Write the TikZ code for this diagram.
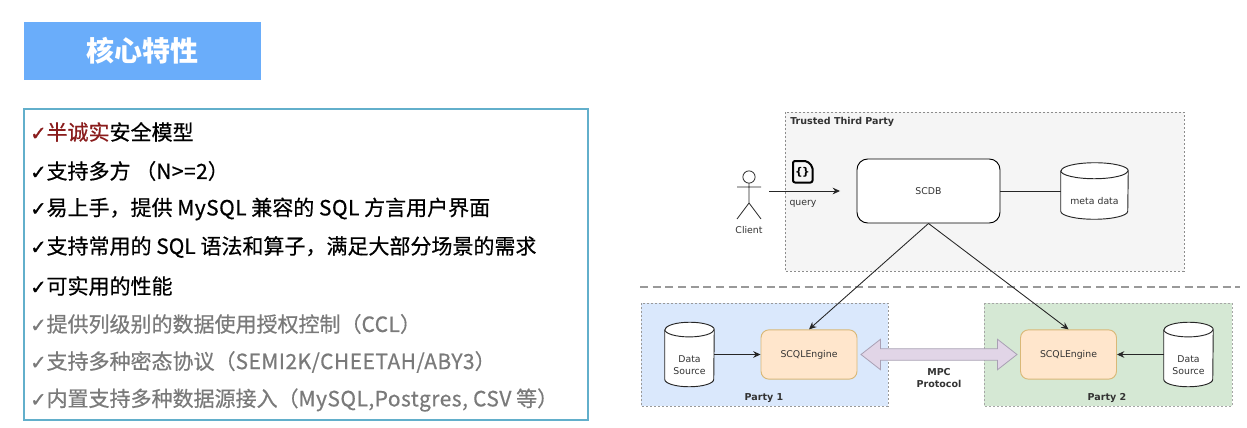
\documentclass[tikz,border=0pt]{standalone}
\usepackage{fontspec}
\setmainfont{Noto Sans CJK SC}
\newfontfamily\dejavu{DejaVu Sans}
\newfontfamily\tickfont[RawFeature={embolden=1.2}]{DejaVu Sans}
\newfontfamily\featfont[RawFeature={embolden=0.5}]{Noto Sans CJK SC}
\usetikzlibrary{arrows.meta,shapes.arrows}
\definecolor{titleblue}{HTML}{6AADFA}
\definecolor{panelline}{HTML}{62AFCB}
\definecolor{accentred}{HTML}{8A1C1C}
\definecolor{mutedtext}{HTML}{7A7A7A}
\definecolor{zonegray}{HTML}{F5F5F5}
\definecolor{zoneblue}{HTML}{DAE8FC}
\definecolor{zonegreen}{HTML}{D5E8D4}
\definecolor{engineorange}{HTML}{FFE6CC}
\definecolor{engineline}{HTML}{D9B877}
\definecolor{mpcfill}{HTML}{E1D5E7}
\definecolor{mpcline}{HTML}{A9A0B4}
\newcommand{\tick}{{\tickfont\fontsize{14.6}{15}\selectfont ✓}}
\newcommand{\lat}[1]{{\addfontfeature{LetterSpace=2.2}#1}}
% database drum around a named box: node name, half width, cap height (both in pt)
\newcommand{\drum}[3]{%
  \filldraw[storeline,fill=white] ([yshift=-#3]#1.north west) -- ([yshift=#3]#1.south west)
    arc[start angle=180,delta angle=180,x radius=#2,y radius=#3]
    -- ([yshift=-#3]#1.north east)
    arc[start angle=0,delta angle=180,x radius=#2,y radius=#3];
  \draw[storeline] ([yshift=-#3]#1.north west)
    arc[start angle=180,delta angle=180,x radius=#2,y radius=#3];}
\tikzset{
  x=0.75pt,y=-0.75pt,
  feature/.style={anchor=west,inner sep=0pt,font=\featfont\fontsize{15.75}{18}\selectfont},
  zone/.style={draw=#1,line width=0.6pt,dash pattern=on 1.6pt off 1.4pt},
  roundbox/.style={draw,rounded corners=8pt,line width=0.7pt,anchor=center},
  storeline/.style={draw=black!85,line width=0.7pt},
  storebox/.style={inner sep=0pt},
  small/.style={font=\dejavu\fontsize{7}{9}\selectfont,align=center,inner sep=0pt,text=black!80},
  smallbold/.style={font=\dejavu\bfseries\fontsize{7.15}{9}\selectfont,align=center,inner sep=0pt,text=black!80},
  link/.style={draw=black!85,line width=0.65pt},
  linkarrow/.style={link,-{Stealth[length=5.5pt,width=5pt]}},
}
\begin{document}
\begin{tikzpicture}
\useasboundingbox (0,0) rectangle (1247,428);
\fill[white] (0,0) rectangle (1247,428);

% heading
\node[fill=titleblue,minimum width=177.75pt,minimum height=43.5pt,inner sep=0pt,text=white,
  font=\bfseries\fontsize{21}{24}\selectfont] (heading) at (142.5,51) {核心特性};

% feature panel
\draw[panelline,line width=1.3pt] (24,109) rectangle (588,420);
\node[feature,text=accentred] (f1) at (30,132) {\tick 半诚实\textcolor{black}{安全模型}};
\node[feature] (f2) at (30,171) {\tick 支持多方 （\lat{N>=2}）};
\node[feature] (f3) at (30,209) {\tick 易上手，提供 \lat{MySQL} 兼容的 \lat{SQL} 方言用户界面};
\node[feature] (f4) at (30,247) {\tick 支持常用的 SQL 语法和算子，满足大部分场景的需求};
\node[feature] (f5) at (30,286) {\tick 可实用的性能};
\node[feature,text=mutedtext] (f6) at (30,324) {\tick 提供列级别的数据使用授权控制（\lat{CCL}）};
\node[feature,text=mutedtext] (f7) at (30,362) {\tick 支持多种密态协议（\lat{SEMI2K/CHEETAH/ABY3}）};
\node[feature,text=mutedtext] (f8) at (30,400) {\tick 内置支持多种数据源接入（\lat{MySQL,Postgres, CSV} 等）};

% zones
\filldraw[zone=black!45,fill=zonegray] (785,112) rectangle (1184,271);
\filldraw[zone=black!40,fill=zoneblue] (641,303) rectangle (888,406);
\filldraw[zone=black!35,fill=zonegreen] (984,303) rectangle (1232,406);
\node[smallbold,anchor=west] (ttp) at (790,122) {Trusted Third Party};
\node[smallbold] (p1) at (764,398) {Party 1};
\node[smallbold] (p2) at (1107,398) {Party 2};

% boundary between the third party and the data owners
\coordinate (divL) at (640,287);
\coordinate (divR) at (1240,287);
\draw[black!40,line width=0.8pt,dash pattern=on 6pt off 3.5pt] (divL) -- (divR);

% main components
\node[roundbox,fill=white,minimum width=107.25pt,minimum height=48pt] (scdb) at (928.5,191) {};
\node[small] at (scdb) {SCDB};
\node[storebox,minimum width=50.25pt,minimum height=42pt] (meta) at (1094.5,191) {};
\drum{meta}{25.125pt}{6pt}
\node[small] at (1094.5,201) {meta data};
\node[roundbox,fill=engineorange,draw=engineline,minimum width=72pt,minimum height=37pt,rounded corners=6pt] (eng1) at (809,354.5) {};
\node[small] at (eng1) {SCQLEngine};
\node[roundbox,fill=engineorange,draw=engineline,minimum width=72pt,minimum height=37pt,rounded corners=6pt] (eng2) at (1068.5,354.5) {};
\node[small] at (eng2) {SCQLEngine};
\node[storebox,minimum width=36.75pt,minimum height=48pt] (ds1) at (689.5,354.5) {};
\drum{ds1}{18.375pt}{5.5pt}
\node[small] at (689.5,365.5) {Data\\Source};
\node[storebox,minimum width=36.75pt,minimum height=48pt] (ds2) at (1188.5,354.5) {};
\drum{ds2}{18.375pt}{5.5pt}
\node[small] at (1188.5,365.5) {Data\\Source};

% secure channel between the engines
\node[double arrow,draw=mpcline,fill=mpcfill,line width=0.6pt,minimum height=117pt,minimum width=19pt,
  double arrow tip angle=76,inner sep=0pt] (mpc) at (939,354.5) {\rule{0pt}{8pt}};
\node[smallbold] (mpclabel) at (939,378.5) {MPC\\Protocol};

% client figure
\draw[black!85,line width=0.6pt] (749,177) circle [radius=4.6pt];
\draw[black!85,line width=0.6pt] (749,183.2) -- (749,203) (737,187) -- (761,187) (737,219) -- (749,203) -- (761,219);
\node[small] (client) at (749,230) {Client};

% query document icon
\draw[black,line width=1.5pt,line join=round,rounded corners=1.5pt]
  (793,161) -- (807,161) -- (812.5,166.5) -- (812.5,182.5) -- (793,182.5) -- cycle;
\node[inner sep=0pt,font=\dejavu\bfseries\fontsize{8}{9}\selectfont] (icon) at (802.5,172) {\{\kern-0.5pt\}};

% connectors
\coordinate (qStart) at (769,191);
\coordinate (qEnd) at (840,191);
\draw[linkarrow] (qStart) -- (qEnd);
\node[small] (query) at (803,203.5) {query};
\draw[link] (scdb.east) -- (meta.west |- scdb.east);
\draw[linkarrow] (scdb.south) -- (eng1.north);
\draw[linkarrow] (scdb.south) -- (eng2.north);
\draw[linkarrow] (ds1.east |- eng1.west) -- (eng1.west);
\draw[linkarrow] (ds2.west |- eng2.east) -- (eng2.east);
\end{tikzpicture}
\end{document}
